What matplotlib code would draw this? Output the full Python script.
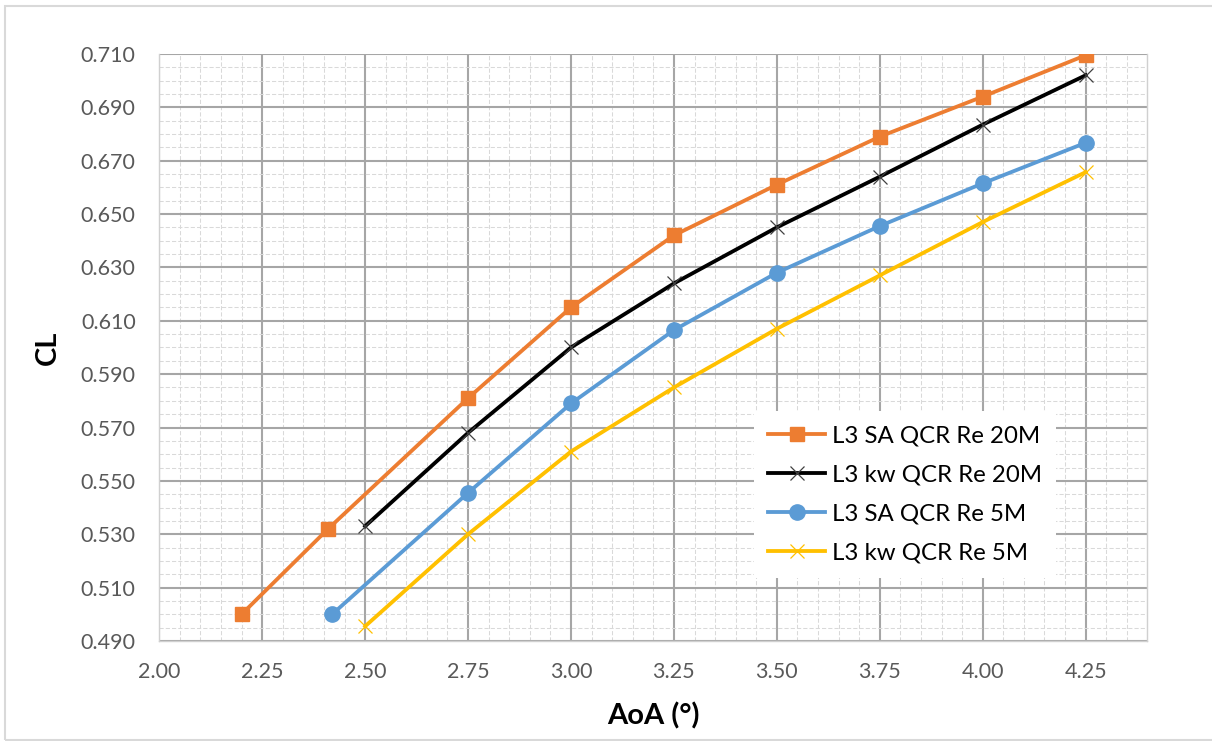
import matplotlib
matplotlib.use('Agg')
import matplotlib.pyplot as plt
from matplotlib.patches import Rectangle
from matplotlib.ticker import MultipleLocator, FormatStrFormatter

plt.rcParams['font.family'] = ['Lato', 'DejaVu Sans']

# CL vs AoA
sa_20m_aoa = [2.20, 2.41, 2.75, 3.00, 3.25, 3.50, 3.75, 4.00, 4.25]
sa_20m_cl = [0.500, 0.532, 0.581, 0.615, 0.642, 0.661, 0.679, 0.694, 0.7095]

kw_20m_aoa = [2.50, 2.75, 3.00, 3.25, 3.50, 3.75, 4.00, 4.25]
kw_20m_cl = [0.533, 0.568, 0.600, 0.624, 0.645, 0.664, 0.6835, 0.702]

sa_5m_aoa = [2.42, 2.75, 3.00, 3.25, 3.50, 3.75, 4.00, 4.25]
sa_5m_cl = [0.500, 0.5455, 0.579, 0.6065, 0.628, 0.6455, 0.6615, 0.6767]

kw_5m_aoa = [2.50, 2.75, 3.00, 3.25, 3.50, 3.75, 4.00, 4.25]
kw_5m_cl = [0.4955, 0.530, 0.561, 0.585, 0.607, 0.627, 0.647, 0.6657]

series_labels = ["L3 SA QCR Re 20M", "L3 kw QCR Re 20M",
                 "L3 SA QCR Re 5M", "L3 kw QCR Re 5M"]

TICK_GREY = "#595959"
MAJOR_GRID = "#a6a6a6"
MINOR_GRID = "#d9d9d9"

fig = plt.figure(figsize=(12.12, 7.41), dpi=100)
ax = fig.add_axes([0.1314, 0.1350, 0.8153, 0.7922])

ax.plot(sa_20m_aoa, sa_20m_cl, color="#ED7D31", lw=2.75, marker="s",
        markersize=10.5, label=series_labels[0], zorder=5)
ax.plot(kw_20m_aoa, kw_20m_cl, color="#000000", lw=2.75, marker="x",
        markersize=10.5, markeredgewidth=0.9, markeredgecolor="#404040",
        label=series_labels[1], zorder=5)
ax.plot(sa_5m_aoa, sa_5m_cl, color="#5B9BD5", lw=2.75, marker="o",
        markersize=11, label=series_labels[2], zorder=5)
ax.plot(kw_5m_aoa, kw_5m_cl, color="#FFC000", lw=2.75, marker="x",
        markersize=10.5, markeredgewidth=0.9, label=series_labels[3], zorder=5)

ax.set_xlim(2.0, 4.40)
ax.set_ylim(0.490, 0.710)
ax.xaxis.set_major_locator(MultipleLocator(0.25))
ax.xaxis.set_minor_locator(MultipleLocator(0.05))
ax.yaxis.set_major_locator(MultipleLocator(0.02, offset=0.01))
ax.yaxis.set_minor_locator(MultipleLocator(0.005))
ax.xaxis.set_major_formatter(FormatStrFormatter("%.2f"))
ax.yaxis.set_major_formatter(FormatStrFormatter("%.3f"))

ax.grid(which="minor", color=MINOR_GRID, lw=0.75, linestyle=(0, (4, 2)))
ax.grid(which="major", color=MAJOR_GRID, lw=1.5, linestyle="-")
ax.set_axisbelow(True)
# Excel draws no major gridline on the value-axis crossing
ax.get_xgridlines()[0].set_visible(False)

ax.tick_params(which="both", length=0)
ax.tick_params(axis="both", labelsize=15.5, labelcolor=TICK_GREY)
ax.tick_params(axis="y", pad=17)
ax.tick_params(axis="x", pad=15)

for side in ("left", "right", "bottom"):
    ax.spines[side].set_color("#d0d0d0")
    ax.spines[side].set_linewidth(1.0)
ax.spines["top"].set_visible(False)

ax.set_xlabel("AoA (°)", fontsize=21, fontweight="bold", labelpad=15)
ax.set_ylabel("CL", fontsize=21, fontweight="bold", labelpad=14)

legend = ax.legend(loc="upper left", bbox_to_anchor=(0.622, 0.445),
                   bbox_transform=fig.transFigure, fontsize=17.3,
                   frameon=True, fancybox=False, framealpha=1.0,
                   facecolor="white", edgecolor="none", borderpad=0.6,
                   borderaxespad=0, handlelength=2.35, handletextpad=0.3,
                   labelspacing=0.75)
legend.set_zorder(10)

fig.patches.append(Rectangle((0.0045, 0.0012), 1.0, 0.9912,
                             transform=fig.transFigure, fill=False,
                             edgecolor="#d9d9d9", lw=1.5))

fig.savefig("out.png", dpi=100)
plt.close(fig)
